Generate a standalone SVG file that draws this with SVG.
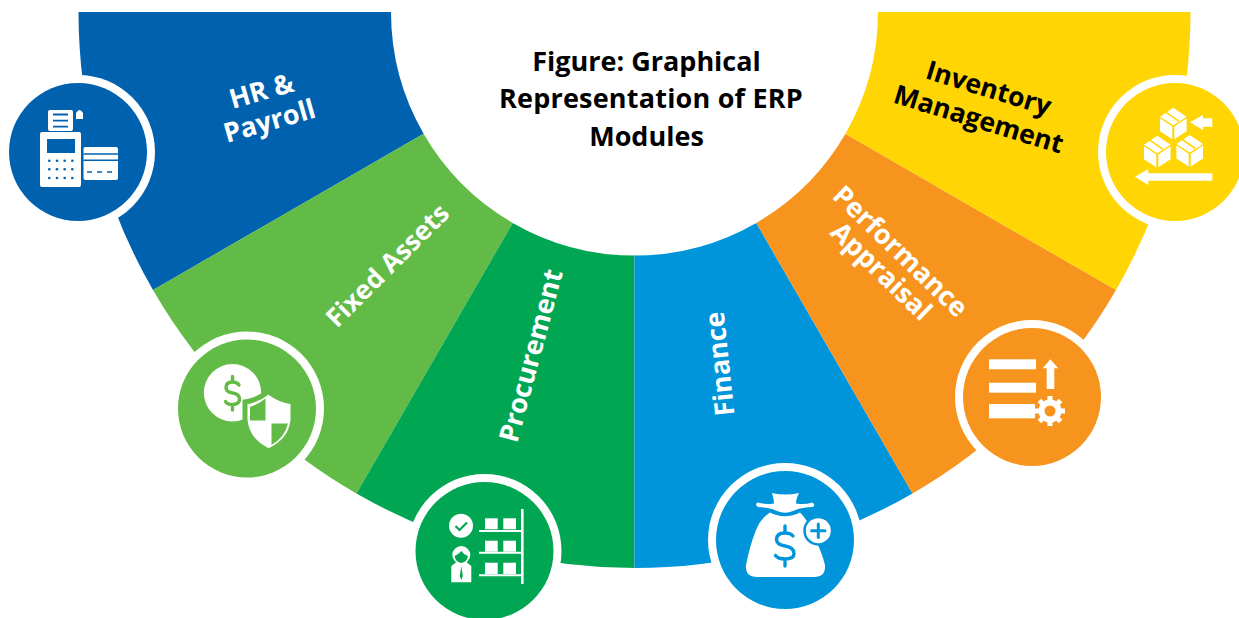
<svg xmlns="http://www.w3.org/2000/svg" width="1239" height="618" viewBox="0 0 1239 618">
<style>
.t{font-family:"Open Sans","Liberation Sans",sans-serif;font-weight:700;text-anchor:middle}
.l{font-size:27px;fill:#fff}
.k{font-size:26.500px;fill:#000}
.ti{font-size:27px;fill:#000}
.ring{fill:#fff}
.w{fill:#fff}
.d{fill:none;stroke-width:3.400;stroke-linecap:round;stroke-linejoin:round}
</style>
<defs>
<g id="cube">
<path class="w" d="M0 0L13.300 9 0 17.500-13.300 9Z"/>
<path class="w" d="M-13.300 10.500L-1 18.700V31.500L-13.300 23.500Z"/>
<path class="w" d="M13.300 10.500L1 18.700V31.500L13.300 23.500Z"/>
<path d="M-7.500 4.500L5.500 13.500" fill="none" stroke="#FFD503" stroke-width="1.600"/>
</g>
<g id="gear"><path d="M0-15V15M-15 0H15M-10.600-10.600L10.600 10.600M-10.600 10.600L10.600-10.600" stroke="#fff" stroke-width="5"/><circle r="11.500" fill="#fff"/><circle r="5.500" fill="#F7941E"/></g>
</defs>

<g id="connectors"></g>

<g id="hr-payroll">
<path fill="#0061AE" d="M78.500 12A556 556 0 0 0 153 290L423.600 133.750A243.500 243.500 0 0 1 391 12Z"/>
</g>
<g id="fixed-assets">
<path fill="#62BB46" d="M153 290A556 556 0 0 0 356.500 493.500L512.750 222.900A243.500 243.500 0 0 1 423.600 133.750Z"/>
</g>
<g id="procurement">
<path fill="#00A651" d="M356.500 493.500A556 556 0 0 0 634.500 568V255.500A243.500 243.500 0 0 1 512.750 222.900Z"/>
</g>
<g id="finance">
<path fill="#0095DA" d="M634.500 568A556 556 0 0 0 912.500 493.500L756.250 222.900A243.500 243.500 0 0 1 634.500 255.500Z"/>
</g>
<g id="performance-appraisal">
<path fill="#F7941E" d="M912.500 493.500A556 556 0 0 0 1116 290L845.400 133.750A243.500 243.500 0 0 1 756.250 222.900Z"/>
</g>
<g id="inventory-management">
<path fill="#FFD503" d="M1116 290A556 556 0 0 0 1190.500 12H878A243.500 243.500 0 0 1 845.400 133.750Z"/>
</g>

<g id="hr-icon">
<circle class="ring" cx="78" cy="152" r="77"/>
<circle cx="78" cy="152" r="69" fill="#0061AE"/>
<rect class="w" x="48" y="110" width="25" height="21" rx="2"/>
<path d="M53 114.500H68M53 120.700H68M53 126.700H68" stroke="#0061AE" stroke-width="1.800"/>
<path class="w" d="M76 119V113Q79.500 107 83 113V119Z"/>
<rect class="w" x="40" y="132" width="41" height="55" rx="2"/>
<rect x="47" y="139" width="28" height="14" fill="#0061AE"/>
<g fill="#0061AE"><circle cx="49.300" cy="160.700" r="1.300"/><circle cx="57" cy="160.700" r="1.300"/><circle cx="64.700" cy="160.700" r="1.300"/><circle cx="72.300" cy="160.700" r="1.300"/><circle cx="49.300" cy="169.300" r="1.300"/><circle cx="57" cy="169.300" r="1.300"/><circle cx="64.700" cy="169.300" r="1.300"/><circle cx="72.300" cy="169.300" r="1.300"/><circle cx="49.300" cy="178" r="1.300"/><circle cx="57" cy="178" r="1.300"/><circle cx="64.700" cy="178" r="1.300"/><circle cx="72.300" cy="178" r="1.300"/></g>
<rect class="w" x="83.500" y="147" width="34.500" height="33" rx="2"/>
<path d="M83.500 154H118M83.500 160.200H118" stroke="#0061AE" stroke-width="1.600"/>
<path d="M87 172H92M97 172H102M107 172H112" stroke="#0061AE" stroke-width="1.600"/>
</g>

<g id="fixed-icon">
<circle class="ring" cx="247" cy="408.500" r="77"/>
<circle cx="247" cy="408.500" r="69" fill="#62BB46"/>
<circle class="w" cx="232.500" cy="392.700" r="28.700"/>
<path class="d" stroke="#62BB46" d="M239 385Q237 382 232.500 382Q226 382 226 387.500Q226 392 232.500 393Q239.500 394 239.500 399Q239.500 404.500 232.500 404.500Q227 404.500 225.500 401.500M232.500 376.500V382M232.500 404.500V410"/>
<path class="w" stroke="#62BB46" stroke-width="5" d="M268.500 391.500Q258 400 245 402V420Q247 441 268.500 451Q291 441 293 420V402Q279 400 268.500 391.500Z"/>
<path fill="#62BB46" d="M265.500 398.500Q258 404.500 250 407V420.500H265.500ZM271.500 423.500H288Q285 437 271.500 445Z"/>
</g>

<g id="procurement-icon">
<circle class="ring" cx="484.500" cy="551" r="77"/>
<circle cx="484.500" cy="551" r="69" fill="#00A651"/>
<circle class="w" cx="461" cy="525.700" r="12"/>
<path d="M455.500 526L459.500 530L467 522.500" fill="none" stroke="#00A651" stroke-width="2.200"/>
<path class="w" d="M451.300 582.300V566L457 561.700H466L471.300 566V582.300Z"/>
<circle class="w" cx="461.300" cy="555" r="9"/>
<path d="M454.500 556Q458 555 461.300 551Q464 555 468 556Q467 562 461.300 563Q455.500 562 454.500 556Z" fill="#00A651"/>
<path d="M461.300 566L459.800 576L461.300 580L462.800 576Z" fill="#00A651"/>
<rect class="w" x="521" y="509" width="2.600" height="75"/>
<path d="M479 531H522M479 552.700H522M479 575.300H522" stroke="#fff" stroke-width="2"/>
<g class="w"><rect x="485" y="518.300" width="12.700" height="11"/><rect x="503.300" y="518.300" width="12.700" height="11"/><rect x="485" y="540.700" width="12.700" height="11"/><rect x="503.300" y="540.700" width="12.700" height="11"/><rect x="485" y="562.700" width="12.700" height="11.300"/><rect x="503.300" y="562.700" width="12.700" height="11.300"/></g>
</g>

<g id="finance-icon">
<circle class="ring" cx="785" cy="540" r="77"/>
<circle cx="785" cy="540" r="69" fill="#0095DA"/>
<path class="w" d="M772 493Q785 496 799 493Q796 499 796 503.500Q805 505 812 502.500Q816 504 813 507Q800 507.500 793 511Q785 514.500 777 511Q770 507.500 758 507Q754 504 758 502.500Q765 505 774 503.500Q774 499 772 493Z"/>
<path class="w" d="M770 512.500Q785 520 800 512.500Q807 519 812 532Q822 552 825 565Q826 577 814 577H757Q745 577 746 565Q750 545 756 530Q760 519 770 512.500Z"/>
<path class="d" stroke="#0095DA" d="M793 536Q790.500 533 785 533Q776.500 533 776.500 539.500Q776.500 544.500 785 546Q794 547.500 794 553.500Q794 559 785 559Q778 559 775.500 555.500M785 526V533M785 559V566"/>
<circle cx="818.300" cy="530.700" r="15" fill="#0095DA"/>
<circle class="w" cx="818.300" cy="530.700" r="12.500"/>
<path d="M818.300 524V537.400M811.600 530.700H825" stroke="#0095DA" stroke-width="3" stroke-linecap="round"/>
</g>

<g id="performance-icon">
<circle class="ring" cx="1032" cy="397" r="77"/>
<circle cx="1032" cy="397" r="69" fill="#F7941E"/>
<rect class="w" x="989" y="359.300" width="47" height="10"/>
<rect class="w" x="989" y="382.700" width="47" height="10"/>
<rect class="w" x="989" y="404" width="46" height="14.300"/>
<path class="w" d="M1050.300 359.300L1058.300 368.300H1054.300V389H1046.700V368.300H1042.700Z"/>
<use href="#gear" x="1050" y="411"/>
</g>

<g id="inventory-icon">
<circle class="ring" cx="1175" cy="152" r="77"/>
<circle cx="1175" cy="152" r="69" fill="#FFD503"/>
<use href="#cube" x="1173.300" y="107.700"/>
<use href="#cube" x="1157.300" y="135.700"/>
<use href="#cube" x="1189.700" y="135"/>
<path class="w" d="M1190 122.300L1203 115V118.300H1212.300V126.700H1203V130Z"/>
<path class="w" d="M1135 176.700L1148.300 169V173.300H1212.300V180.700H1148.300V185Z"/>
</g>

<g id="labels">
<text class="t ti" x="646.500" y="70.500">Figure: Graphical</text>
<text class="t ti" x="651" y="107.500" letter-spacing=".2">Representation of ERP</text>
<text class="t ti" x="646.500" y="145.500">Modules</text>
<text class="t l" transform="translate(264 100) rotate(-16)">HR &amp;</text>
<text class="t l" transform="translate(272 130) rotate(-16)">Payroll</text>
<text class="t l" style="font-size:26.400px" transform="translate(394 272) rotate(-45)">Fixed Assets</text>
<text class="t l" transform="translate(540 358) rotate(-75)">Procurement</text>
<text class="t l" transform="translate(729 363) rotate(-96)">Finance</text>
<text class="t l" transform="translate(894 258) rotate(44)">Performance</text>
<text class="t l" transform="translate(875 278) rotate(44)">Appraisal</text>
<text class="t k" transform="translate(986 97) rotate(17)">Inventory</text>
<text class="t k" transform="translate(976 128) rotate(17)">Management</text>
</g>
</svg>
